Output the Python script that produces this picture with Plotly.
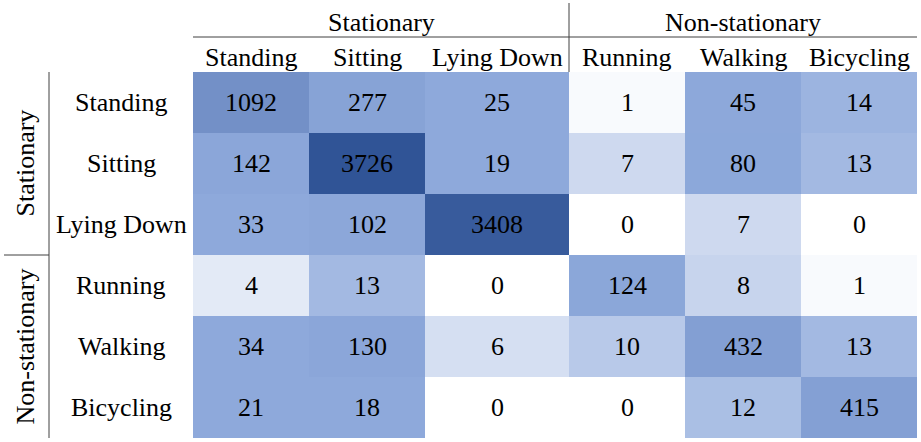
import numpy as np
import plotly.graph_objects as go

# ---- data ----
classes = ["Standing", "Sitting", "Lying Down", "Running", "Walking", "Bicycling"]
groups = ["Stationary", "Non-stationary"]
group_sizes = [3, 3]
counts = [
    [1092, 277, 25, 1, 45, 14],
    [142, 3726, 19, 7, 80, 13],
    [33, 102, 3408, 0, 7, 0],
    [4, 13, 0, 124, 8, 1],
    [34, 130, 6, 10, 432, 13],
    [21, 18, 0, 0, 12, 415],
]

# ---- style ----
col_widths = [116, 116, 144, 116, 116, 116]
FONT = "Liberation Serif"
FS = 26
LINE = "#404040"
W, H = 921, 442
ML, MR, MT, MB = 193, 4, 72, 4
PW, PH = W - ML - MR, H - MT - MB

z = np.array(counts, dtype=float)
zmax = z.max()
mid = np.percentile(z, 50)  # Excel-style 3-colour scale, midpoint at 50th percentile
colorscale = [[0, "#FFFFFF"], [mid / zmax, "#8EA9DB"], [1, "#305496"]]

x_edges = np.concatenate([[0], np.cumsum(col_widths)])
y_edges = np.arange(len(classes) + 1)
x_centers = (x_edges[:-1] + x_edges[1:]) / 2

fig = go.Figure(go.Heatmap(
    z=z, x=x_edges, y=y_edges,
    colorscale=colorscale, zmin=0, zmax=zmax, showscale=False,
    hoverinfo="skip",
))

ann = []
# cell values
for i, row in enumerate(counts):
    for j, v in enumerate(row):
        ann.append(dict(x=x_centers[j], y=i + 0.5, xref="x", yref="y", text=str(v),
                        showarrow=False, xanchor="center", yanchor="middle"))
# column labels
for xc, name in zip(x_centers, classes):
    ann.append(dict(x=xc, y=1 + 14 / PH, xref="x", yref="paper", text=name,
                    showarrow=False, xanchor="center", yanchor="middle"))
# row labels
for i, name in enumerate(classes):
    ann.append(dict(x=(121 - ML) / PW, y=i + 0.5, xref="paper", yref="y", text=name,
                    showarrow=False, xanchor="center", yanchor="middle"))
# group labels
start = 0
for g, n in zip(groups, group_sizes):
    xc = (x_edges[start] + x_edges[start + n]) / 2
    ann.append(dict(x=xc, y=1 + 50 / PH, xref="x", yref="paper", text=g,
                    showarrow=False, xanchor="center", yanchor="middle"))
    ann.append(dict(x=(25 - ML) / PW, y=start + n / 2, xref="paper", yref="y", text=g,
                    textangle=-90, showarrow=False, xanchor="center", yanchor="middle"))
    start += n

split = group_sizes[0]
shapes = [
    dict(type="line", xref="x", yref="paper", x0=0, x1=x_edges[-1],
         y0=1 + 35 / PH, y1=1 + 35 / PH, line=dict(color=LINE, width=1)),
    dict(type="line", xref="x", yref="paper", x0=x_edges[split], x1=x_edges[split],
         y0=1, y1=1 + 69 / PH, line=dict(color=LINE, width=1)),
    dict(type="line", xref="paper", yref="paper", x0=(49 - ML) / PW, x1=(49 - ML) / PW,
         y0=0, y1=1, line=dict(color=LINE, width=1)),
    dict(type="line", xref="paper", yref="y", x0=(4 - ML) / PW, x1=(49 - ML) / PW,
         y0=split, y1=split, line=dict(color=LINE, width=1)),
]

fig.update_layout(
    width=W, height=H,
    margin=dict(l=ML, r=MR, t=MT, b=MB),
    paper_bgcolor="white", plot_bgcolor="white",
    font=dict(family=FONT, size=FS, color="black"),
    annotations=ann, shapes=shapes,
    xaxis=dict(range=[0, x_edges[-1]], showticklabels=False, showgrid=False,
               zeroline=False, ticks=""),
    yaxis=dict(range=[len(classes), 0], showticklabels=False, showgrid=False,
               zeroline=False, ticks=""),
)

fig.write_html("out.html", config={"displayModeBar": False},
               post_script="document.body.style.margin='0';")
